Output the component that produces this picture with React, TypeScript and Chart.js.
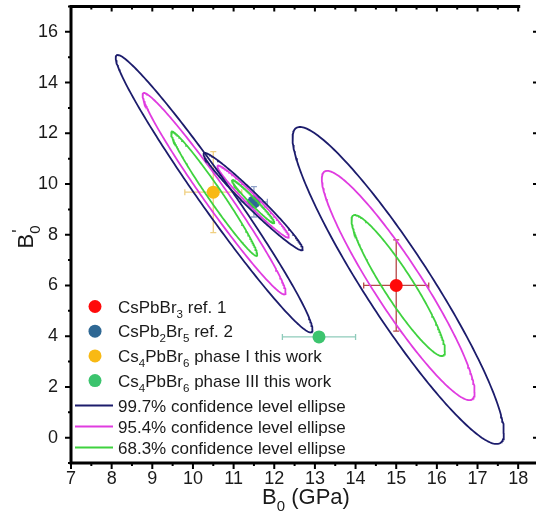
import React, { useEffect, useRef } from "react";
import { Chart, registerables } from "chart.js";

Chart.register(...registerables);

const FONT = '"Liberation Sans", Arial, Helvetica, sans-serif';

// ---- axis ----
const X_MIN = 7;
const X_MAX = 18.5;
const Y_MIN = -1;
const Y_MAX = 17;
const xTickLabels = [7, 8, 9, 10, 11, 12, 13, 14, 15, 16, 17, 18];
const yTickLabels = [0, 2, 4, 6, 8, 10, 12, 14, 16];

// ---- data points with error bars ----
const pointLabels = [
  "CsPbBr_3 ref. 1",
  "CsPb_2Br_5 ref. 2",
  "Cs_4PbBr_6 phase I this work",
  "Cs_4PbBr_6 phase III this work",
];
const pointX = [15.0, 11.5, 10.5, 13.1];
const pointY = [6.0, 9.3, 9.68, 3.97];
const pointXErr = [0.8, 0.33, 0.7, 0.9];
const pointYErr = [1.8, 0.6, 1.6, 0];
const pointColors = ["#ff0a0a", "#2f6894", "#f8b914", "#3cc46e"];
const errColors = ["#b54848", "#8fa2c9", "#f0cf80", "#8fcbbb"];

// ---- confidence ellipses (groups: CsPbBr3, phase I, CsPb2Br5) ----
const ellCenterX = [15.05, 10.52, 11.48];
const ellCenterY = [6.0, 9.62, 9.31];
const ellRho = [-0.93, -0.98, -0.977];
const ellHalfX997 = [2.6, 2.42, 1.22];
const ellHalfY997 = [6.25, 5.47, 1.92];
const ellHalfX954 = [1.88, 1.76, 0.88];
const ellHalfY954 = [4.52, 3.97, 1.42];
const ellHalfX683 = [1.15, 1.06, 0.52];
const ellHalfY683 = [2.78, 2.45, 0.85];
const levelLabels = [
  "99.7% confidence level ellipse",
  "95.4% confidence level ellipse",
  "68.3% confidence level ellipse",
];
const levelColors = ["#1c1c6c", "#e03ce0", "#3fd23f"];

function ellipseOutline(cx: number, cy: number, hx: number, hy: number, rho: number) {
  const d = Math.acos(rho);
  const pts: { x: number; y: number }[] = [];
  const n = 240;
  for (let i = 0; i <= n; i++) {
    const t = (2 * Math.PI * i) / n;
    pts.push({ x: cx + hx * Math.cos(t), y: cy + hy * Math.cos(t - d) });
  }
  return pts;
}

function drawRich(ctx: CanvasRenderingContext2D, text: string, x: number, y: number, size: number) {
  const segs = text.split(/(_.)/).filter((s) => s.length > 0);
  let cx = x;
  for (const s of segs) {
    if (s[0] === "_") {
      ctx.font = `${size * 0.68}px ${FONT}`;
      ctx.fillText(s[1], cx, y + size * 0.3);
      cx += ctx.measureText(s[1]).width;
    } else {
      ctx.font = `${size}px ${FONT}`;
      ctx.fillText(s, cx, y);
      cx += ctx.measureText(s).width;
    }
  }
  return cx - x;
}

function measureRich(ctx: CanvasRenderingContext2D, text: string, size: number) {
  const segs = text.split(/(_.)/).filter((s) => s.length > 0);
  let w = 0;
  for (const s of segs) {
    if (s[0] === "_") {
      ctx.font = `${size * 0.68}px ${FONT}`;
      w += ctx.measureText(s[1]).width;
    } else {
      ctx.font = `${size}px ${FONT}`;
      w += ctx.measureText(s).width;
    }
  }
  return w;
}

const customPlugin = {
  id: "custom",
  beforeDatasetsDraw(chart: any) {
    const ctx = chart.ctx as CanvasRenderingContext2D;
    const xs = chart.scales.x;
    const ys = chart.scales.y;
    ctx.save();
    ctx.lineWidth = 1.3;
    const cap = 3;
    for (let i = 0; i < pointX.length; i++) {
      ctx.strokeStyle = errColors[i];
      const px = xs.getPixelForValue(pointX[i]);
      const py = ys.getPixelForValue(pointY[i]);
      if (pointXErr[i] > 0) {
        const x1 = xs.getPixelForValue(pointX[i] - pointXErr[i]);
        const x2 = xs.getPixelForValue(pointX[i] + pointXErr[i]);
        ctx.beginPath();
        ctx.moveTo(x1, py);
        ctx.lineTo(x2, py);
        ctx.moveTo(x1, py - cap);
        ctx.lineTo(x1, py + cap);
        ctx.moveTo(x2, py - cap);
        ctx.lineTo(x2, py + cap);
        ctx.stroke();
      }
      if (pointYErr[i] > 0) {
        const y1 = ys.getPixelForValue(pointY[i] - pointYErr[i]);
        const y2 = ys.getPixelForValue(pointY[i] + pointYErr[i]);
        ctx.beginPath();
        ctx.moveTo(px, y1);
        ctx.lineTo(px, y2);
        ctx.moveTo(px - cap, y1);
        ctx.lineTo(px + cap, y1);
        ctx.moveTo(px - cap, y2);
        ctx.lineTo(px + cap, y2);
        ctx.stroke();
      }
    }
    ctx.restore();
  },
  afterDraw(chart: any) {
    const ctx = chart.ctx as CanvasRenderingContext2D;
    const xs = chart.scales.x;
    const ys = chart.scales.y;
    const a = chart.chartArea;
    ctx.save();
    ctx.strokeStyle = "#000";
    ctx.fillStyle = "#000";
    // frame
    ctx.lineWidth = 3;
    ctx.beginPath();
    ctx.moveTo(a.left, a.top - 1.5);
    ctx.lineTo(a.left, a.bottom + 1.5);
    ctx.moveTo(a.left - 1.5, a.bottom);
    ctx.lineTo(a.right, a.bottom);
    ctx.moveTo(a.left - 1.5, a.top);
    ctx.lineTo(xs.getPixelForValue(18.05), a.top);
    ctx.stroke();
    // ticks
    ctx.lineWidth = 2;
    ctx.beginPath();
    for (let v = 7; v <= 18.01; v += 0.5) {
      const px = xs.getPixelForValue(v);
      const major = Math.abs(v - Math.round(v)) < 1e-6;
      const len = major ? 6 : 3;
      ctx.moveTo(px, a.bottom);
      ctx.lineTo(px, a.bottom + len);
      if (v > 7) {
        ctx.moveTo(px, a.top);
        ctx.lineTo(px, a.top + (major ? 5 : 3));
      }
    }
    for (let v = -1; v <= 17; v += 1) {
      const py = ys.getPixelForValue(v);
      const major = v % 2 === 0;
      ctx.moveTo(a.left, py);
      ctx.lineTo(a.left - (major ? 6 : 3), py);
      if (major) {
        ctx.moveTo(533, py);
        ctx.lineTo(536, py);
      }
    }
    ctx.stroke();

    // legend
    const lx = a.left + 24;
    const tx = a.left + 47;
    const size = 17;
    ctx.textBaseline = "alphabetic";
    ctx.textAlign = "left";
    for (let i = 0; i < pointLabels.length; i++) {
      const ry = 306.5 + i * 24.7;
      ctx.fillStyle = pointColors[i];
      ctx.beginPath();
      ctx.arc(lx, ry, 6.5, 0, Math.PI * 2);
      ctx.fill();
      ctx.fillStyle = "#1a1a1a";
      drawRich(ctx, pointLabels[i], tx, ry + 6.1, size);
    }
    for (let i = 0; i < levelLabels.length; i++) {
      const ry = 405.5 + i * 21;
      ctx.strokeStyle = levelColors[i];
      ctx.lineWidth = 1.8;
      ctx.beginPath();
      ctx.moveTo(a.left + 4, ry);
      ctx.lineTo(a.left + 42, ry);
      ctx.stroke();
      ctx.fillStyle = "#1a1a1a";
      drawRich(ctx, levelLabels[i], tx, ry + 6.1, size);
    }

    // axis titles
    const ts = 22;
    ctx.fillStyle = "#1a1a1a";
    const xt = "B_0 (GPa)";
    const w = measureRich(ctx, xt, ts);
    drawRich(ctx, xt, 306 - w / 2, 504, ts);

    ctx.translate(33, 237);
    ctx.rotate(-Math.PI / 2);
    ctx.font = `${ts}px ${FONT}`;
    const wb = ctx.measureText("B").width;
    ctx.font = `${ts * 0.68}px ${FONT}`;
    const w0 = ctx.measureText("0").width;
    const sx = -(wb + w0) / 2;
    ctx.font = `${ts}px ${FONT}`;
    ctx.fillText("B", sx, 0);
    ctx.font = `${ts * 0.68}px ${FONT}`;
    ctx.fillText("0", sx + wb, ts * 0.3);
    ctx.font = `${ts * 0.8}px ${FONT}`;
    ctx.fillText("'", sx + wb + 1, -ts * 0.38);
    ctx.restore();
  },
};

export default function App() {
  const ref = useRef<HTMLCanvasElement | null>(null);
  useEffect(() => {
    document.body.style.margin = "0";
    const canvas = ref.current;
    if (!canvas) return;
    const datasets: any[] = [];
    for (let i = 0; i < pointX.length; i++) {
      datasets.push({
        label: pointLabels[i],
        data: [{ x: pointX[i], y: pointY[i] }],
        backgroundColor: pointColors[i],
        borderWidth: 0,
        pointRadius: 6.5,
        order: 2,
      });
    }
    const halfX = [ellHalfX997, ellHalfX954, ellHalfX683];
    const halfY = [ellHalfY997, ellHalfY954, ellHalfY683];
    for (let l = 0; l < 3; l++) {
      for (let g = 0; g < ellCenterX.length; g++) {
        datasets.push({
          label: levelLabels[l],
          data: ellipseOutline(ellCenterX[g], ellCenterY[g], halfX[l][g], halfY[l][g], ellRho[g]),
          showLine: true,
          borderColor: levelColors[l],
          borderWidth: 1.8,
          pointRadius: 0,
          tension: 0,
          fill: false,
          order: 1,
        });
      }
    }
    const chart = new Chart(canvas, {
      type: "scatter",
      data: { datasets },
      options: {
        animation: false,
        responsive: false,
        devicePixelRatio: 1,
        layout: { padding: { top: 5, right: 6, left: 0, bottom: 0 } },
        plugins: { legend: { display: false }, tooltip: { enabled: false } },
        scales: {
          x: {
            type: "linear",
            min: X_MIN,
            max: X_MAX,
            grid: { display: false, drawTicks: false },
            border: { display: false },
            ticks: {
              stepSize: 1,
              includeBounds: false,
              autoSkip: false,
              maxRotation: 0,
              padding: 5,
              color: "#1a1a1a",
              font: { family: FONT, size: 18 },
              callback: (v: any) => (xTickLabels.includes(Number(v)) ? String(v) : ""),
            },
            afterFit: (s: any) => {
              s.height = 64;
              s.paddingLeft = 0;
              s.paddingRight = 0;
              s.paddingTop = 0;
              s.paddingBottom = 0;
            },
          },
          y: {
            type: "linear",
            min: Y_MIN,
            max: Y_MAX,
            grid: { display: false, drawTicks: false },
            border: { display: false },
            ticks: {
              stepSize: 1,
              autoSkip: false,
              padding: 13,
              color: "#1a1a1a",
              font: { family: FONT, size: 18 },
              callback: (v: any) => (yTickLabels.includes(Number(v)) ? String(v) : ""),
            },
            afterFit: (s: any) => {
              s.width = 71;
              s.paddingLeft = 0;
              s.paddingRight = 0;
              s.paddingTop = 0;
              s.paddingBottom = 0;
            },
          },
        },
      },
      plugins: [customPlugin],
    });
    return () => chart.destroy();
  }, []);
  return (
    <div style={{ width: 536, height: 527, overflow: "hidden", background: "#fff" }}>
      <canvas ref={ref} width={545} height={527} style={{ display: "block" }} />
    </div>
  );
}
